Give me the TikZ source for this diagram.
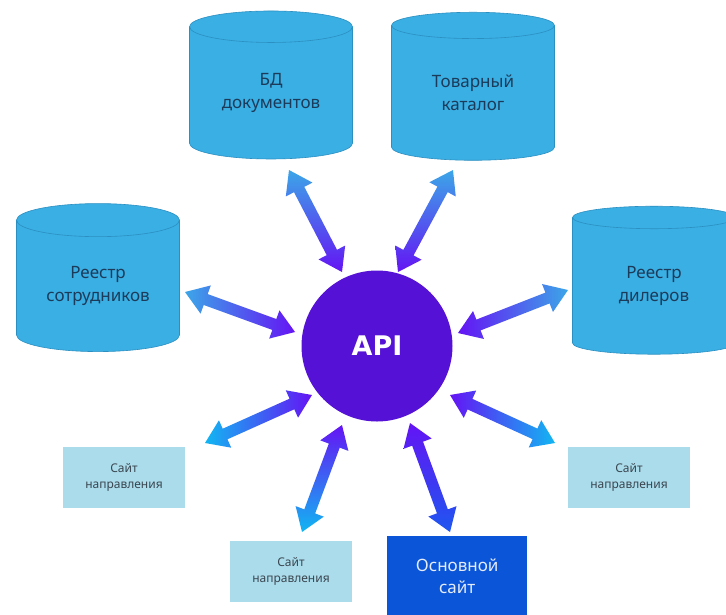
\documentclass[tikz,border=0pt]{standalone}
\usepackage{fontspec}
\setmainfont{Noto Sans}
\newfontfamily\apifont{DejaVu Sans}
\usepackage{xcolor}
\usetikzlibrary{calc,shapes.geometric}
\definecolor{cylfill}{HTML}{3AAFE3}
\definecolor{cylline}{HTML}{2B8FC2}
\definecolor{cyltext}{HTML}{1C3B5A}
\definecolor{apifill}{HTML}{5512D6}
\definecolor{sitefill}{HTML}{ABDCEB}
\definecolor{sitetext}{HTML}{3A4650}
\definecolor{mainfill}{HTML}{0B56D8}
\definecolor{maintext}{HTML}{E6ECF8}
\definecolor{arrSky}{HTML}{3CA6E8}
\definecolor{arrCyan}{HTML}{12B6F2}
\definecolor{arrBlue}{HTML}{1E57F0}
\definecolor{arrViolet}{HTML}{6414F4}
\tikzset{
  dbCyl/.style={cylinder, shape border rotate=90, aspect=0.32, draw=cylline,
    line width=0.6pt, fill=cylfill, minimum width=163pt, minimum height=148pt,
    inner sep=0pt, text=cyltext, align=center, font=\fontsize{17}{23}\selectfont},
  apiDisc/.style={circle, fill=apifill, minimum size=151pt, inner sep=0pt,
    text=white, font=\apifont\fontsize{27}{30}\selectfont\bfseries},
  siteBox/.style={rectangle, fill=sitefill, minimum width=122pt, minimum height=61pt,
    inner sep=0pt, text=sitetext, align=center, font=\fontsize{12}{16}\selectfont},
  mainBox/.style={rectangle, fill=mainfill, minimum width=140pt, minimum height=80pt,
    inner sep=0pt, text=maintext, align=center, font=\fontsize{17}{22}\selectfont},
}
\def\headlen{22pt}
\def\headhw{15pt}
\def\shafthw{5.8pt}
% double-headed wide arrow between two coordinates, shaded
\newcommand{\twoway}[3]{%
  \shade[#3] (#1)
    -- ($(#1)!\headlen!(#2)!\headhw!90:(#2)$)
    -- ($(#1)!\headlen!(#2)!\shafthw!90:(#2)$)
    -- ($(#2)!\headlen!(#1)!\shafthw!-90:(#1)$)
    -- ($(#2)!\headlen!(#1)!\headhw!-90:(#1)$)
    -- (#2)
    -- ($(#2)!\headlen!(#1)!\headhw!90:(#1)$)
    -- ($(#2)!\headlen!(#1)!\shafthw!90:(#1)$)
    -- ($(#1)!\headlen!(#2)!\shafthw!-90:(#2)$)
    -- ($(#1)!\headlen!(#2)!\headhw!-90:(#2)$)
    -- cycle;
}
\begin{document}
\begin{tikzpicture}[x=1pt, y=-1pt]
  \useasboundingbox[fill=white] (0,0) rectangle (726,614);

  % stores
  \node[dbCyl] (docs)    at (271,93)  {БД\\документов};
  \node[dbCyl] (catalog) at (473,93)  {Товарный\\каталог};
  \node[dbCyl] (staff)   at (98,286)  {Реестр\\сотрудников};
  \node[dbCyl] (dealers) at (654,286) {Реестр\\дилеров};

  \node[apiDisc] (api) at (377,346) {API};

  % sites
  \node[siteBox] (siteL) at (124,477) {Сайт\\направления};
  \node[siteBox] (siteB) at (291,571) {Сайт\\направления};
  \node[siteBox] (siteR) at (629,477) {Сайт\\направления};
  \node[mainBox, anchor=north west] (mainsite) at (387,536) {Основной\\сайт};

  % arrow ends
  \coordinate (docs-e)    at (289,170);  \coordinate (docs-a)    at (342,272);
  \coordinate (catalog-e) at (453,170);  \coordinate (catalog-a) at (398,272);
  \coordinate (staff-e)   at (185,292);  \coordinate (staff-a)   at (295,332);
  \coordinate (dealers-e) at (568,290);  \coordinate (dealers-a) at (458,333);
  \coordinate (siteL-e)   at (205,443);  \coordinate (siteL-a)   at (312,395);
  \coordinate (siteB-e)   at (302,532);  \coordinate (siteB-a)   at (342,425);
  \coordinate (siteR-e)   at (555,443);  \coordinate (siteR-a)   at (450,395);
  \coordinate (main-e)    at (450,532);  \coordinate (main-a)    at (410,423);

  \twoway{docs-e}{docs-a}{top color=arrSky, bottom color=arrViolet}
  \twoway{catalog-e}{catalog-a}{top color=arrSky, bottom color=arrViolet}
  \twoway{staff-e}{staff-a}{left color=arrSky, right color=arrViolet}
  \twoway{dealers-e}{dealers-a}{right color=arrSky, left color=arrViolet}
  \twoway{siteL-e}{siteL-a}{left color=arrCyan, right color=arrViolet}
  \twoway{siteB-e}{siteB-a}{bottom color=arrCyan, top color=arrViolet}
  \twoway{siteR-e}{siteR-a}{right color=arrCyan, left color=arrViolet}
  \twoway{main-e}{main-a}{bottom color=arrBlue, top color=arrViolet}
\end{tikzpicture}
\end{document}
